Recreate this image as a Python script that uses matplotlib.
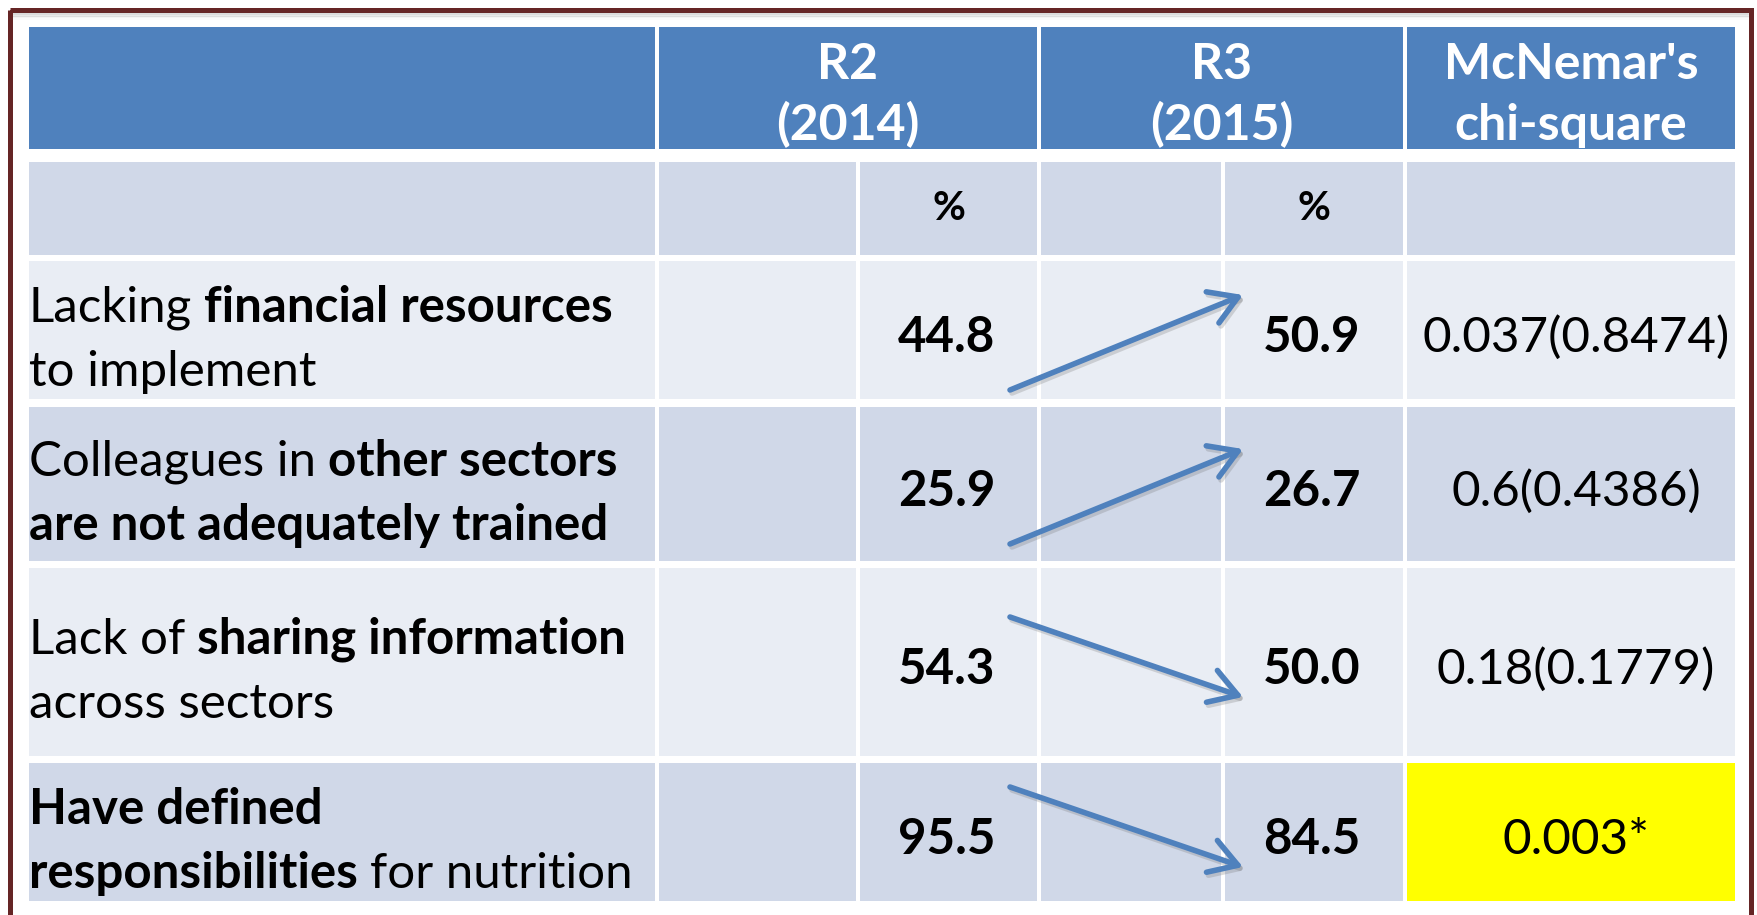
import matplotlib
matplotlib.use('Agg')
import matplotlib.pyplot as plt
from matplotlib.patches import Rectangle, FancyArrowPatch

# ---------------- data ----------------
headers = ["R2\n(2014)", "R3\n(2015)", "McNemar's\nchi-square"]
unit_label = "%"
row_labels = [
    [[("Lacking", False), ("financial resources", True)], [("to implement", False)]],
    [[("Colleagues in", False), ("other sectors", True)], [("are not adequately trained", True)]],
    [[("Lack of", False), ("sharing information", True)], [("across sectors", False)]],
    [[("Have defined", True)], [("responsibilities", True), ("for nutrition", False)]],
]
r2_values = [44.8, 25.9, 54.3, 95.5]
r3_values = [50.9, 26.7, 50.0, 84.5]
mcnemar = ["0.037(0.8474)", "0.6(0.4386)", "0.18(0.1779)", "0.003*"]
significant = [False, False, False, True]

# ---------------- style ----------------
FONT = ['Lato', 'DejaVu Sans']
HEAD = '#4F81BD'
DARK = '#D0D8E8'
LIGHT = '#E9EDF4'
YELLOW = '#FFFF00'
FRAME = '#652525'
ARROW = '#4F81BD'
FS = 35.5
FS_HEAD = 36

W, H = 1758, 915
fig = plt.figure(figsize=(W / 100, H / 100), dpi=100)
ax = fig.add_axes([0, 0, 1, 1])
ax.set_xlim(0, W)
ax.set_ylim(H, 0)
ax.axis('off')
fig.patch.set_facecolor('white')

# layout
col_x = [27, 657, 858, 1039, 1223, 1405, 1737]
header_y = (25, 151)
row_y = [(160, 257), (259, 401), (405, 563), (566, 758), (761, 903)]
GAP = 1.6


def cell(x0, x1, y0, y1, color):
    ax.add_patch(Rectangle((x0 + GAP, y0 + GAP), x1 - x0 - 2 * GAP, y1 - y0 - 2 * GAP,
                           facecolor=color, edgecolor='none', zorder=1))


# frame
ax.add_patch(Rectangle((10, 10), 1741, 1000, facecolor='none', edgecolor=FRAME,
                       lw=3.6, zorder=5, clip_on=False))
for i, a in enumerate([0.35, 0.22, 0.12, 0.05]):
    ax.plot([13, 1748], [14 + i * 1.5, 14 + i * 1.5], color='#808080', alpha=a, lw=1.2, zorder=4)

# header
hcols = [(col_x[0], col_x[1]), (col_x[1], col_x[3]), (col_x[3], col_x[5]), (col_x[5], col_x[6])]
for x0, x1 in hcols:
    cell(x0, x1, header_y[0], header_y[1], HEAD)
for (x0, x1), txt in zip(hcols[1:], headers):
    l1, l2 = txt.split("\n")
    xc = (x0 + x1) / 2
    ax.text(xc, 79, l1, ha='center', va='baseline', fontsize=FS_HEAD, fontweight='bold',
            color='white', family=FONT, zorder=3)
    ax.text(xc, 140, l2, ha='center', va='baseline', fontsize=FS_HEAD, fontweight='bold',
            color='white', family=FONT, zorder=3)

# body fills
subcols = [(col_x[i], col_x[i + 1]) for i in range(6)]
for ri, (y0, y1) in enumerate(row_y):
    base = DARK if ri % 2 == 0 else LIGHT
    for ci, (x0, x1) in enumerate(subcols):
        c = base
        if ri > 0 and ci == 5 and significant[ri - 1]:
            c = YELLOW
        cell(x0, x1, y0, y1, c)

# unit row
yc = sum(row_y[0]) / 2
for ci in (2, 4):
    x0, x1 = subcols[ci]
    ax.text((x0 + x1) / 2, yc + 12, unit_label, ha='center', va='baseline', fontsize=29,
            fontweight='bold', color='black', family=FONT, zorder=3)

fig.canvas.draw()
renderer = fig.canvas.get_renderer()


def width_of(s, bold):
    t = ax.text(0, 0, s, fontsize=FS, fontweight='bold' if bold else 'normal', family=FONT)
    w = t.get_window_extent(renderer=renderer).width
    t.remove()
    return w


space_w = {b: width_of("x x", b) - width_of("xx", b) for b in (False, True)}

for ri, lines in enumerate(row_labels):
    y0, y1 = row_y[ri + 1]
    yc = (y0 + y1) / 2
    baselines = [yc - 8, yc + 56]
    for line, yb in zip(lines, baselines):
        x = 29
        for k, (s, bold) in enumerate(line):
            if k > 0:
                x += space_w[bold]
            t = ax.text(x, yb, s, ha='left', va='baseline', fontsize=FS,
                        fontweight='bold' if bold else 'normal', color='black',
                        family=FONT, zorder=3)
            x += t.get_window_extent(renderer=renderer).width

    # values
    for ci, v in ((2, r2_values[ri]), (4, r3_values[ri])):
        x0, x1 = subcols[ci]
        ax.text((x0 + x1) / 2 - 2, yc + 22, f"{v:.1f}", ha='center', va='baseline', fontsize=FS,
                fontweight='bold', color='black', family=FONT, zorder=3)
    x0, x1 = subcols[5]
    ax.text((x0 + x1) / 2 + 5, yc + 22, mcnemar[ri], ha='center', va='baseline', fontsize=FS,
            color='black', family=FONT, zorder=3)

    # arrow showing direction of change
    up = r3_values[ri] > r2_values[ri]
    if up:
        p0, p1 = (1010, yc + 60), (1243, yc - 35)
    else:
        p0, p1 = (1010, yc - 45), (1243, yc + 35)
    for dx, dy, col, al, z in ((2, 3, '#6f6f6f', 0.25, 2), (0, 0, ARROW, 1.0, 3)):
        ax.add_patch(FancyArrowPatch((p0[0] + dx, p0[1] + dy), (p1[0] + dx, p1[1] + dy),
                                     arrowstyle='->,head_length=0.9,head_width=0.55',
                                     mutation_scale=22, lw=4.0, color=col, alpha=al,
                                     zorder=z, shrinkA=0, shrinkB=0))

fig.savefig('out.png', dpi=100, facecolor='white')
